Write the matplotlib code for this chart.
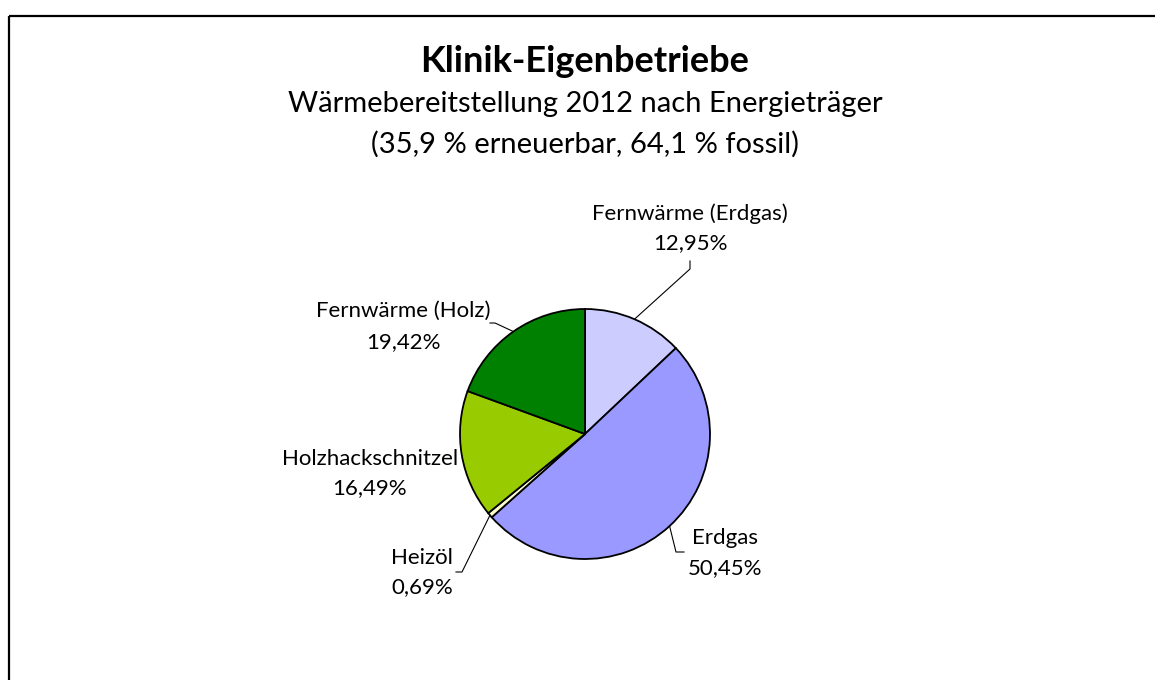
import matplotlib
matplotlib.use("Agg")
import matplotlib.pyplot as plt
import numpy as np
from matplotlib.patches import Rectangle

labels = ["Fernwärme (Erdgas)", "Erdgas", "Heizöl", "Holzhackschnitzel", "Fernwärme (Holz)"]
values = [12.95, 50.45, 0.69, 16.49, 19.42]
value_text = ["12,95%", "50,45%", "0,69%", "16,49%", "19,42%"]
colors = ["#CCCCFF", "#9999FF", "#FFFFCC", "#99CC00", "#008000"]

title = "Klinik-Eigenbetriebe"
subtitle_lines = ["Wärmebereitstellung 2012 nach Energieträger", "(35,9 % erneuerbar, 64,1 % fossil)"]

plt.rcParams['font.family'] = ['Lato', 'DejaVu Sans']

W, H = 1155, 680
fig = plt.figure(figsize=(W / 100, H / 100), dpi=100)
ax = fig.add_axes([0, 0, 1, 1])

cx, cy, r = 585, 434, 125
wedges, _ = ax.pie(values, colors=colors, startangle=-90, counterclock=True,
                   center=(cx, cy), radius=r,
                   wedgeprops=dict(edgecolor="black", linewidth=1.3))
ax.set_xlim(0, W)
ax.set_ylim(H, 0)
ax.set_aspect('equal')
ax.axis('off')

# frame
ax.add_patch(Rectangle((8.5, 15.5), 1300, 1000, fill=False, edgecolor="black", linewidth=1.6))

ax.text(585, 72, title, ha='center', va='baseline', fontsize=26, fontweight='bold')
for y, line in zip([112, 153], subtitle_lines):
    ax.text(585, y, line, ha='center', va='baseline', fontsize=21)

# label layout: (text center x, baseline of first line, baseline of second line, elbow points)
layout = [
    (690, 220, 249, [(690, 269), (690, 261)]),
    (725, 544, 574, [(676, 552), (684, 552)]),
    (422, 564, 593, [(462, 572), (456, 572)]),
    (370, 465, 494, None),
    (403, 317, 348, [(495, 323), (490, 323)]),
]

for w, lab, vt, (tx, y1, y2, pts) in zip(wedges, labels, value_text, layout):
    mid = np.deg2rad((w.theta1 + w.theta2) / 2)
    ex, ey = cx + r * np.cos(mid), cy + r * np.sin(mid)
    ax.text(tx, y1, lab, ha='center', va='baseline', fontsize=16)
    ax.text(tx, y2, vt, ha='center', va='baseline', fontsize=16)
    if pts:
        xs = [ex] + [p[0] for p in pts]
        ys = [ey] + [p[1] for p in pts]
        ax.plot(xs, ys, color='black', linewidth=0.8)

fig.savefig("out.png", dpi=100)
